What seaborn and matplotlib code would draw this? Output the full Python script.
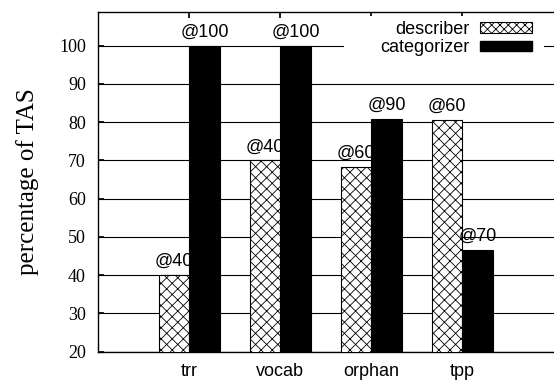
# Recreate grouped bar chart: describer vs categorizer
import pandas as pd
import matplotlib.pyplot as plt
import seaborn as sns
from matplotlib.patches import Patch, Rectangle

sns.set_theme(style="white")
plt.rcParams['font.family'] = ['Liberation Sans', 'DejaVu Sans']
plt.rcParams['hatch.linewidth'] = 0.6
plt.rcParams['text.color'] = 'black'
plt.rcParams['axes.labelcolor'] = 'black'
plt.rcParams['xtick.color'] = 'black'
plt.rcParams['ytick.color'] = 'black'

# Datos
benchmarks = ['trr', 'vocab', 'orphan', 'tpp']
describer = [40, 70, 68.3, 80.6]
categorizer = [100, 100, 80.9, 46.6]
describer_labels = ['@40', '@40', '@60', '@60']
categorizer_labels = ['@100', '@100', '@90', '@70']
tools = ['describer', 'categorizer']

df = pd.DataFrame({
    'bench': benchmarks * 2,
    'pct': describer + categorizer,
    'tool': [tools[0]] * 4 + [tools[1]] * 4,
})

fig = plt.figure(figsize=(5.54, 3.82), dpi=100)
ax = fig.add_axes([98.3 / 554, 30.3 / 382, 6 * 91 / 554, 340 / 382])

sns.barplot(data=df, x='bench', y='pct', hue='tool', order=benchmarks,
            hue_order=tools, palette=['white', 'black'], width=0.67,
            edgecolor='black', linewidth=0.8, saturation=1, legend=False,
            ax=ax, zorder=3)

for bar in ax.containers[0]:
    bar.set_hatch('xxx')

ax.bar_label(ax.containers[0], labels=describer_labels, padding=3.7, fontsize=13)
ax.bar_label(ax.containers[1], labels=categorizer_labels, padding=3.7, fontsize=13)

ax.set_xlim(-1, 5)
ax.set_ylim(20, 108.9)
ax.set_yticks(range(20, 101, 10))
ax.yaxis.grid(True, color='black', linewidth=0.8, zorder=0)
ax.set_axisbelow(True)

for s in ax.spines.values():
    s.set_color('black')
    s.set_linewidth(1.0)

ax.tick_params(axis='x', direction='in', top=True, bottom=True, length=4,
               color='black', pad=8, labelsize=13)
ax.tick_params(axis='y', direction='in', left=True, length=4,
               color='black', pad=9, labelsize=13)
for lbl in ax.get_yticklabels():
    lbl.set_fontfamily('Liberation Serif')

ax.set_xlabel('')
ax.set_ylabel('percentage of TAS', fontfamily='Liberation Serif', fontsize=18,
              labelpad=14)

# caja opaca de la leyenda (tapa la rejilla como en gnuplot)
ax.add_patch(Rectangle((344 / 554, 1 - 58 / 382), 200 / 554, 42 / 382,
                       transform=fig.transFigure, facecolor='white',
                       edgecolor='none', zorder=4, clip_on=False))

handles = [Patch(facecolor='white', edgecolor='black', hatch='xxxx', linewidth=0.8),
           Patch(facecolor='black', edgecolor='black')]
leg = ax.legend(handles, tools, loc='upper right', bbox_to_anchor=(536 / 554, 1 - 17 / 382),
                bbox_transform=fig.transFigure, markerfirst=False, fontsize=13,
                handlelength=2.9, handleheight=0.55, labelspacing=0.1,
                borderpad=0.2, borderaxespad=0, handletextpad=0.6,
                frameon=True, fancybox=False, framealpha=1)
leg.get_frame().set_edgecolor('none')
leg.get_frame().set_facecolor('white')
leg.set_zorder(5)

fig.savefig('out.png', dpi=100)
